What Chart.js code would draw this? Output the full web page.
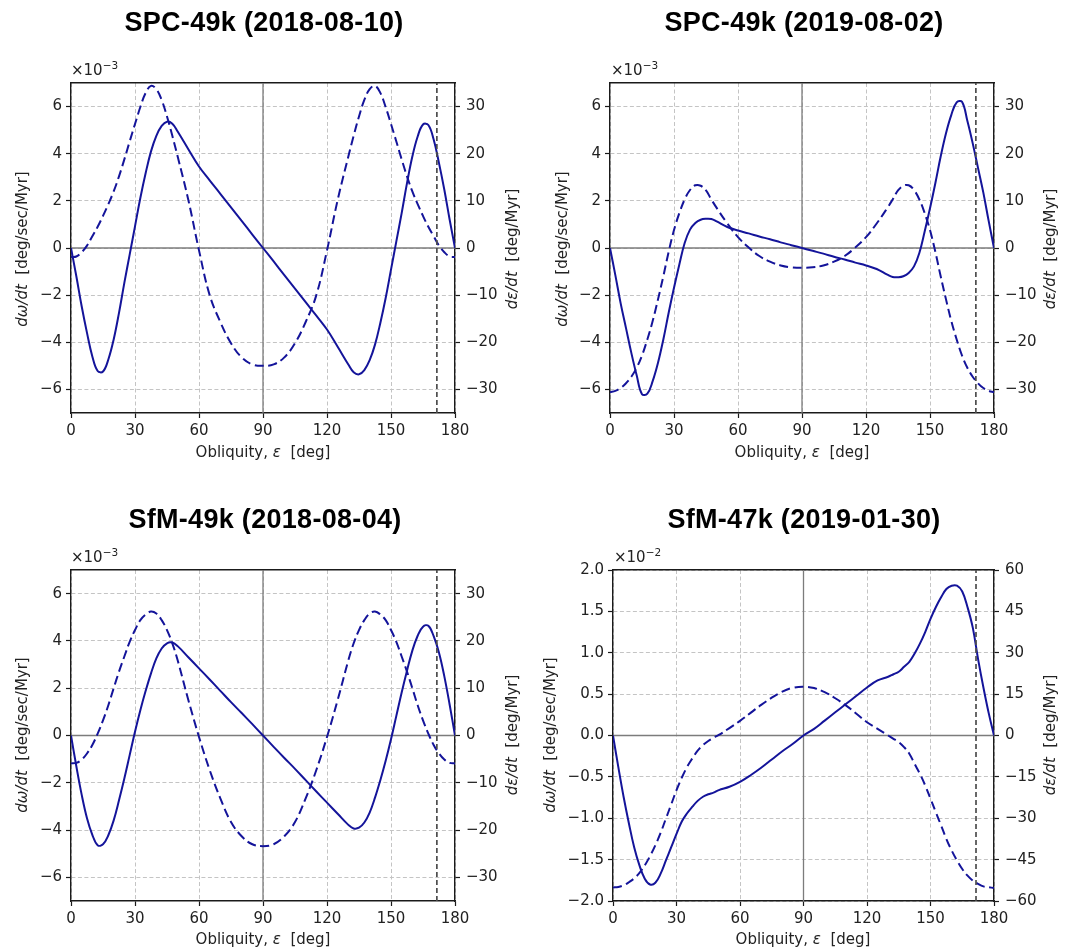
<!DOCTYPE html>
<html>
<head>
<meta charset="utf-8">
<title>Precession and obliquity rates</title>
<script src="https://cdn.jsdelivr.net/npm/chart.js@4.4.1/dist/chart.umd.min.js"></script>
<style>
  html, body { margin: 0; padding: 0; background: #fff; }
  #fig { position: relative; width: 1066px; height: 951px; overflow: hidden; }
  canvas { position: absolute; }
  .ttl { position: absolute; transform: translate(-50%, -50%); font: bold 27px "Liberation Sans", Arial, sans-serif; letter-spacing: 0.3px; color: #000; white-space: nowrap; }
  .lab { position: absolute; transform: translate(-50%, -50%); font: 15px "DejaVu Sans", sans-serif; color: #222; white-space: nowrap; line-height: 1; }
  .lab.rot { transform: translate(-50%, -50%) rotate(-90deg); }
  .off { position: absolute; font: 15px "DejaVu Sans", sans-serif; color: #222; white-space: nowrap; line-height: 1; }
  .off sup { font-size: 10.5px; vertical-align: 6px; line-height: 0; }
</style>
</head>
<body>
<div id="fig">
  <canvas id="c1" width="533" height="475" style="left:0;top:0"></canvas>
  <canvas id="c2" width="533" height="475" style="left:533px;top:0"></canvas>
  <canvas id="c3" width="533" height="471" style="left:0;top:480px"></canvas>
  <canvas id="c4" width="533" height="471" style="left:533px;top:480px"></canvas>

  <div class="ttl" style="left:264px;top:22px">SPC-49k (2018-08-10)</div>
  <div class="ttl" style="left:804px;top:22px">SPC-49k (2019-08-02)</div>
  <div class="ttl" style="left:265px;top:519px">SfM-49k (2018-08-04)</div>
  <div class="ttl" style="left:804px;top:519px">SfM-47k (2019-01-30)</div>

  <div class="off" style="left:71px;top:63px">×10<sup>−3</sup></div>
  <div class="off" style="left:611px;top:63px">×10<sup>−3</sup></div>
  <div class="off" style="left:71px;top:550px">×10<sup>−3</sup></div>
  <div class="off" style="left:614px;top:550px">×10<sup>−2</sup></div>

  <div class="lab rot" style="left:22px;top:249px"><i>dω/dt</i>&nbsp;&nbsp;[deg/sec/Myr]</div>
  <div class="lab rot" style="left:562px;top:249px"><i>dω/dt</i>&nbsp;&nbsp;[deg/sec/Myr]</div>
  <div class="lab rot" style="left:22px;top:735px"><i>dω/dt</i>&nbsp;&nbsp;[deg/sec/Myr]</div>
  <div class="lab rot" style="left:550px;top:735px"><i>dω/dt</i>&nbsp;&nbsp;[deg/sec/Myr]</div>

  <div class="lab rot" style="left:512px;top:249px"><i>dε/dt</i>&nbsp;&nbsp;[deg/Myr]</div>
  <div class="lab rot" style="left:1050px;top:249px"><i>dε/dt</i>&nbsp;&nbsp;[deg/Myr]</div>
  <div class="lab rot" style="left:512px;top:735px"><i>dε/dt</i>&nbsp;&nbsp;[deg/Myr]</div>
  <div class="lab rot" style="left:1050px;top:735px"><i>dε/dt</i>&nbsp;&nbsp;[deg/Myr]</div>

  <div class="lab" style="left:263px;top:452px">Obliquity, <i>ε</i>&nbsp;&nbsp;[deg]</div>
  <div class="lab" style="left:802px;top:452px">Obliquity, <i>ε</i>&nbsp;&nbsp;[deg]</div>
  <div class="lab" style="left:263px;top:939px">Obliquity, <i>ε</i>&nbsp;&nbsp;[deg]</div>
  <div class="lab" style="left:803px;top:939px">Obliquity, <i>ε</i>&nbsp;&nbsp;[deg]</div>
</div>
<script>
// obliquity samples shared by every curve [deg]
var obliquity = [0, 2.5, 5, 7.5, 10, 12.5, 15, 17.5, 20, 22.5, 25, 27.5, 30, 32.5, 35, 37.5, 40, 42.5, 45, 47.5, 50,
    55, 60, 65, 70, 75, 80, 85, 90, 95, 100, 105, 110, 115, 120, 125,
    130, 132.5, 135, 137.5, 140, 142.5, 145, 147.5, 150, 152.5, 155, 157.5, 160, 162.5, 165, 167.5, 170, 172.5, 175, 177.5, 180];
var obliquityMark = 171.5;
var xTickValues = [0, 30, 60, 90, 120, 150, 180];

// SPC-49k (2018-08-10): dw/dt in 1e-3 deg/sec/Myr, de/dt in deg/Myr
var spc18Omega = [0, -1.2, -2.47, -3.6, -4.6, -5.22, -5.24, -4.73, -3.88, -2.75, -1.48, -0.28, 0.92, 2.12, 3.18, 4.1, 4.76, 5.18, 5.36, 5.27, 4.94,
    4.19, 3.46, 2.87, 2.3, 1.72, 1.15, 0.57, 0, -0.57, -1.15, -1.72, -2.3, -2.87, -3.46, -4.19,
    -4.94, -5.27, -5.36, -5.18, -4.76, -4.1, -3.18, -2.12, -0.92, 0.28, 1.48, 2.75, 3.88, 4.73, 5.24, 5.22, 4.6, 3.6, 2.47, 1.2, 0];
var spc18Eps = [-1.9, -1.8, -0.9, 0.5, 2.5, 4.5, 6.8, 9.3, 12.0, 15.2, 18.8, 22.6, 26.3, 29.9, 32.9, 34.4, 33.7, 31.4, 27.9, 23.8, 19.4,
    10.2, -0.5, -10, -15.7, -20.2, -23.2, -24.7, -25, -24.7, -23.2, -20.2, -15.7, -10, -0.5, 10.2,
    19.4, 23.8, 27.9, 31.4, 33.7, 34.4, 32.9, 29.9, 26.3, 22.6, 18.8, 15.2, 12.0, 9.3, 6.8, 4.5, 2.5, 0.5, -0.9, -1.8, -1.9];

// SPC-49k (2019-08-02)
var spc19Omega = [0, -1.15, -2.35, -3.4, -4.45, -5.4, -6.2, -6.18, -5.65, -4.87, -3.88, -2.75, -1.69, -0.7, 0.21, 0.78, 1.06, 1.2, 1.24, 1.23, 1.13,
    0.89, 0.74, 0.62, 0.49, 0.37, 0.24, 0.12, 0, -0.12, -0.24, -0.37, -0.49, -0.62, -0.74, -0.89,
    -1.13, -1.23, -1.24, -1.2, -1.06, -0.78, -0.21, 0.7, 1.69, 2.75, 3.88, 4.87, 5.65, 6.18, 6.2, 5.4, 4.45, 3.4, 2.35, 1.15, 0];
var spc19Eps = [-30.6, -30.3, -29.7, -28.7, -27.3, -25.4, -22.8, -19.4, -15.5, -10.9, -6.0, -0.8, 3.8, 7.4, 10.3, 12.3, 13.3, 13.2, 12.2, 10.3, 8.5,
    5.2, 2.3, 0.1, -1.7, -2.9, -3.7, -4.1, -4.2, -4.1, -3.7, -2.9, -1.7, 0.1, 2.3, 5.2,
    8.5, 10.3, 12.2, 13.2, 13.3, 12.3, 10.3, 7.4, 3.8, -0.8, -6.0, -10.9, -15.5, -19.4, -22.8, -25.4, -27.3, -28.7, -29.7, -30.3, -30.6];

// SfM-49k (2018-08-04)
var sfm49Omega = [0, -1.3, -2.5, -3.5, -4.2, -4.64, -4.6, -4.22, -3.59, -2.74, -1.82, -0.83, 0.16, 1.07, 1.89, 2.63, 3.26, 3.68, 3.9, 3.93, 3.78,
    3.31, 2.84, 2.37, 1.89, 1.41, 0.95, 0.48, 0, -0.48, -0.95, -1.41, -1.89, -2.37, -2.84, -3.31,
    -3.78, -3.93, -3.9, -3.68, -3.26, -2.63, -1.89, -1.07, -0.16, 0.83, 1.82, 2.74, 3.59, 4.22, 4.6, 4.64, 4.2, 3.5, 2.5, 1.3, 0];
var sfm49Eps = [-5.9, -5.8, -5.1, -3.8, -2.0, 0.4, 3.2, 6.4, 10, 13.5, 16.7, 19.8, 22.3, 24.4, 25.6, 26.2, 25.8, 24.4, 22.3, 19.5, 15.9,
    7.5, -0.3, -7.3, -13.3, -18.3, -21.3, -23, -23.4, -23, -21.3, -18.3, -13.3, -7.3, -0.3, 7.5,
    15.9, 19.5, 22.3, 24.4, 25.8, 26.2, 25.6, 24.4, 22.3, 19.8, 16.7, 13.5, 10, 6.4, 3.2, 0.4, -2.0, -3.8, -5.1, -5.8, -5.9];

// SfM-47k (2019-01-30): dw/dt in 1e-2 deg/sec/Myr
var sfm47Omega = [0, -0.38, -0.74, -1.06, -1.35, -1.57, -1.73, -1.80, -1.78, -1.67, -1.51, -1.35, -1.19, -1.04, -0.94, -0.86, -0.79, -0.74, -0.71, -0.69, -0.66,
    -0.62, -0.56, -0.48, -0.39, -0.29, -0.19, -0.1, 0, 0.08, 0.18, 0.28, 0.38, 0.48, 0.58, 0.665,
    0.71, 0.74, 0.77, 0.83, 0.89, 0.99, 1.11, 1.25, 1.41, 1.55, 1.67, 1.77, 1.81, 1.81, 1.74, 1.55, 1.3, 0.92, 0.58, 0.27, 0];
var sfm47Eps = [-55.1, -54.9, -54.3, -53.2, -51.8, -49.8, -47.1, -43.7, -39.8, -35.3, -30.1, -25, -19.8, -15.3, -11.4, -8.3, -5.5, -3.5, -2, -0.8, 0.2,
    2.7, 5.3, 8.2, 11.1, 13.7, 15.9, 17.3, 17.7, 17.2, 15.7, 13.5, 10.9, 7.9, 4.8, 2.4,
    0, -1.2, -2.4, -4.2, -6.6, -10.3, -13.9, -18.1, -22.9, -27.8, -32.6, -37.5, -41.7, -45.3, -48.4, -50.8, -52.6, -53.8, -54.7, -55, -55.3];

var omegaTicks3 = [-6, -4, -2, 0, 2, 4, 6];
var epsTicks35 = [-30, -20, -10, 0, 10, 20, 30];
var omegaTicks2 = [-2, -1.5, -1, -0.5, 0, 0.5, 1, 1.5, 2];
var epsTicks60 = [-60, -45, -30, -15, 0, 15, 30, 45, 60];

var lineBlue = '#14149a';
var gridGrey = '#c4c4c4';
var axisBlack = '#1a1a1a';
var tickFont = { family: 'DejaVu Sans', size: 15 };

function pairs( ys ){
    return obliquity.map(function( x, i ){ return { x: x, y: ys[i] }; });
}
function withMinus( v, digits ){
    var s = digits ? v.toFixed( digits ) : String( v );
    return s.replace( '-', '\u2212' );
}
function fixedTicks( values ){
    return function( axis ){ axis.ticks = values.map(function( v ){ return { value: v }; }); };
}

function createPanel( canvasId, box, omega, eps, omegaLim, omegaTicks, epsLim, epsTicks, digits ){
    var ctx = document.getElementById( canvasId ).getContext( '2d' );
    return new Chart( ctx, {
        type: 'line',
        data: {
            datasets: [
                { data: [{ x: obliquityMark, y: epsLim[0] }, { x: obliquityMark, y: epsLim[1] }], yAxisID: 'yEps',
                  borderColor: '#4d4d4d', borderWidth: 1.7, borderDash: [5, 3], tension: 0, order: 0 },
                { data: pairs( eps ), yAxisID: 'yEps',
                  borderColor: lineBlue, borderWidth: 2, borderDash: [9, 4.5], order: 1 },
                { data: pairs( omega ), yAxisID: 'yOmega',
                  borderColor: lineBlue, borderWidth: 2, order: 2 },
                { data: [{ x: 0, y: 0 }, { x: 180, y: 0 }], yAxisID: 'yOmega',
                  borderColor: '#7c7c7c', borderWidth: 1.3, tension: 0, order: 3 },
                { data: [{ x: 90, y: omegaLim[0] }, { x: 90, y: omegaLim[1] }], yAxisID: 'yOmega',
                  borderColor: '#7c7c7c', borderWidth: 1.3, tension: 0, order: 3 }
            ]
        },
        options: {
            responsive: false,
            animation: false,
            events: [],
            layout: { padding: { top: box.top, left: 0, right: 0, bottom: 0 } },
            plugins: { legend: { display: false }, tooltip: { enabled: false } },
            elements: { point: { radius: 0 }, line: { tension: 0.4, fill: false } },
            scales: {
                x: {
                    type: 'linear', position: 'bottom', min: 0, max: 180,
                    afterBuildTicks: fixedTicks( xTickValues ),
                    afterFit: function( axis ){ axis.height = box.bottom; },
                    grid: { color: gridGrey, lineWidth: 1, tickLength: 5, tickColor: axisBlack, tickWidth: 1.2, tickBorderDash: [] },
                    border: { color: axisBlack, width: 1.4, dash: [4, 2.5] },
                    ticks: { font: tickFont, color: '#222', padding: 4, maxRotation: 0, autoSkip: false,
                             callback: function( v ){ return withMinus( v ); } }
                },
                xTop: {
                    type: 'linear', position: 'top', min: 0, max: 180,
                    afterFit: function( axis ){ axis.height = 0; },
                    grid: { display: false },
                    border: { color: axisBlack, width: 1.4 },
                    ticks: { display: false }
                },
                yOmega: {
                    type: 'linear', position: 'left', min: omegaLim[0], max: omegaLim[1],
                    afterBuildTicks: fixedTicks( omegaTicks ),
                    afterFit: function( axis ){ axis.width = box.left; },
                    grid: { color: gridGrey, lineWidth: 1, tickLength: 5, tickColor: axisBlack, tickWidth: 1.2, tickBorderDash: [] },
                    border: { color: axisBlack, width: 1.4, dash: [4, 2.5] },
                    ticks: { font: tickFont, color: '#222', padding: 4,
                             callback: function( v ){ return withMinus( v, digits ); } }
                },
                yEps: {
                    type: 'linear', position: 'right', min: epsLim[0], max: epsLim[1],
                    afterBuildTicks: fixedTicks( epsTicks ),
                    afterFit: function( axis ){ axis.width = box.right; },
                    grid: { drawOnChartArea: false, tickLength: 5, tickColor: axisBlack, tickWidth: 1.2, tickBorderDash: [] },
                    border: { color: axisBlack, width: 1.4 },
                    ticks: { font: tickFont, color: '#222', padding: 6,
                             callback: function( v ){ return withMinus( v ); } }
                }
            }
        }
    });
}

function loader(){
    createPanel( 'c1', { left: 71, right: 78, top: 83, bottom: 62 }, spc18Omega, spc18Eps, [-7, 7], omegaTicks3, [-35, 35], epsTicks35, 0 );
    createPanel( 'c2', { left: 77, right: 72, top: 83, bottom: 62 }, spc19Omega, spc19Eps, [-7, 7], omegaTicks3, [-35, 35], epsTicks35, 0 );
    createPanel( 'c3', { left: 71, right: 78, top: 90, bottom: 50 }, sfm49Omega, sfm49Eps, [-7, 7], omegaTicks3, [-35, 35], epsTicks35, 0 );
    createPanel( 'c4', { left: 80, right: 72, top: 90, bottom: 50 }, sfm47Omega, sfm47Eps, [-2, 2], omegaTicks2, [-60, 60], epsTicks60, 1 );
}
loader();
</script>
</body>
</html>
